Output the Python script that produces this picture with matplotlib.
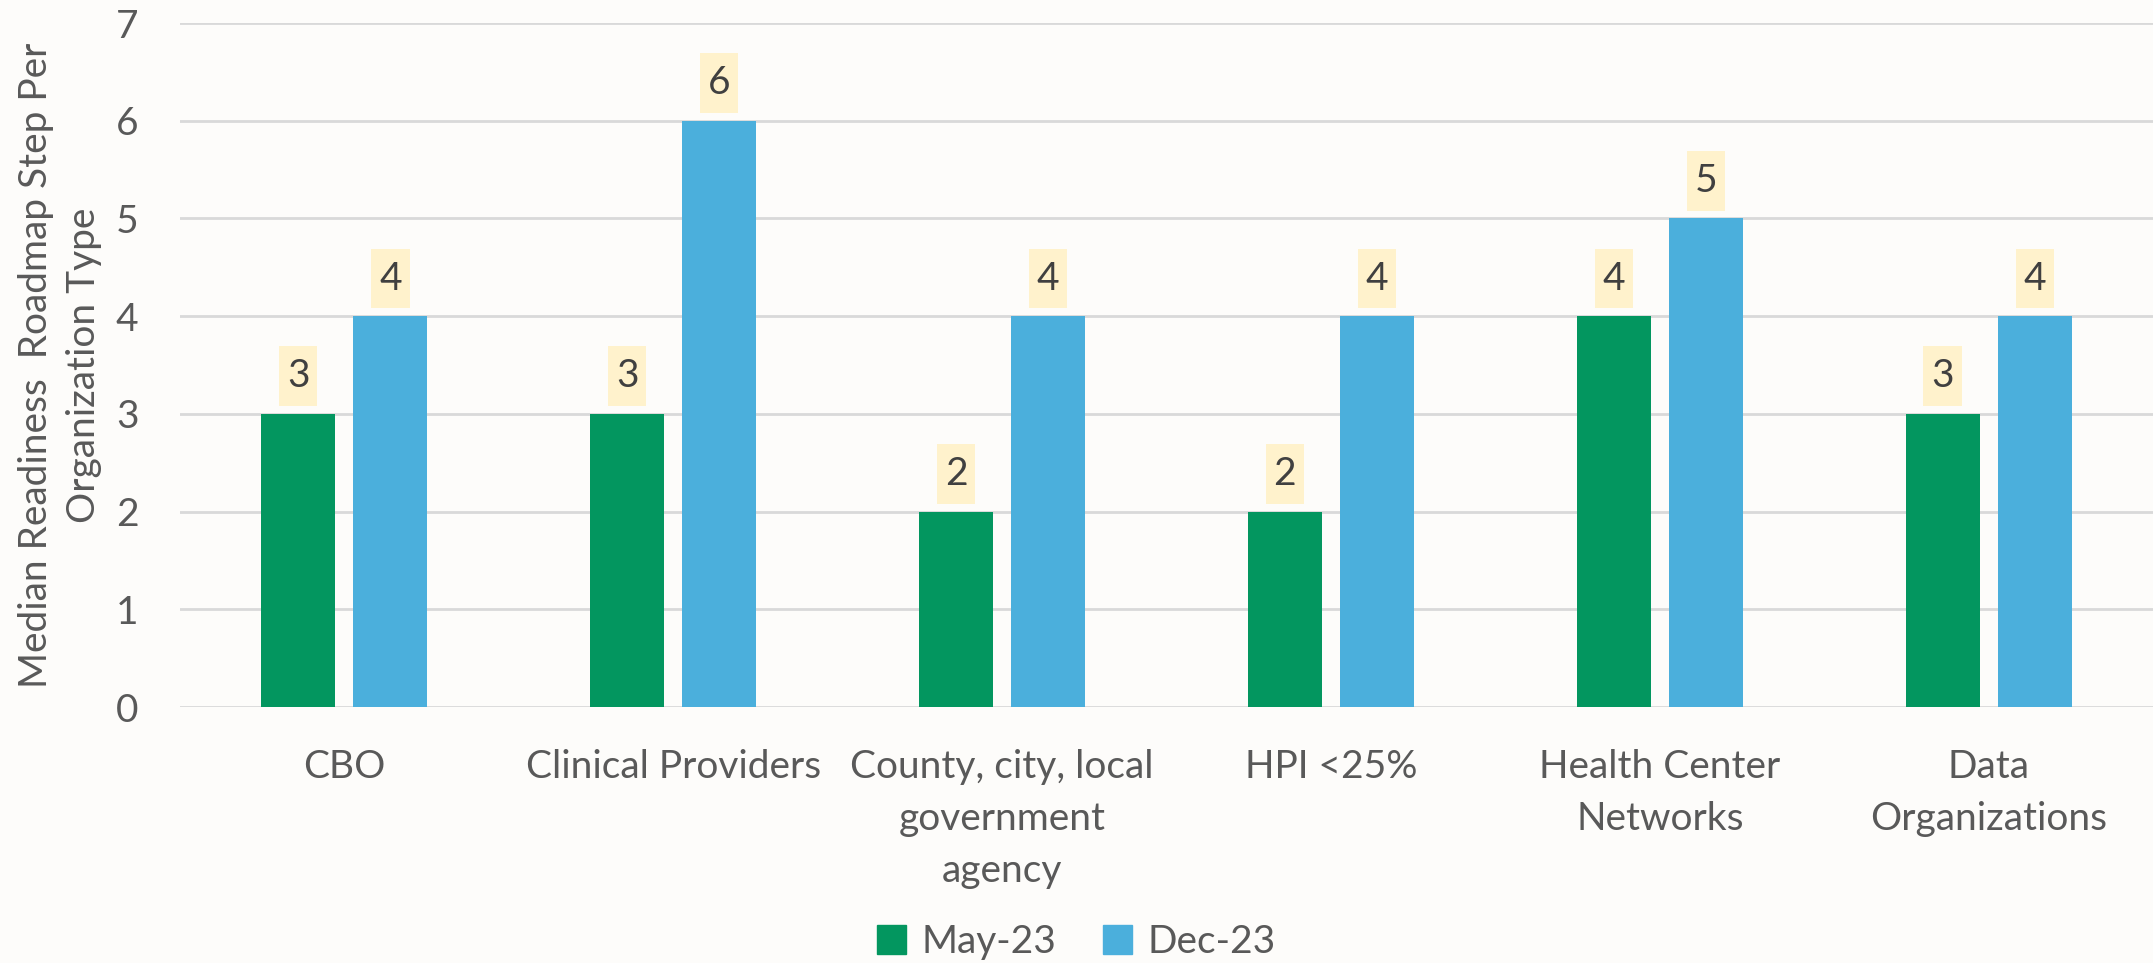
import numpy as np
import matplotlib.pyplot as plt
from matplotlib.patches import Patch, Rectangle

categories = ["CBO", "Clinical Providers", "County, city, local\ngovernment\nagency",
              "HPI <25%", "Health Center\nNetworks", "Data\nOrganizations"]
may_23 = [3, 3, 2, 2, 4, 3]
dec_23 = [4, 6, 4, 4, 5, 4]
series_names = ["May-23", "Dec-23"]

GREEN = "#03965F"
BLUE = "#4BAFDC"
BG = "#FDFCFA"
TEXT = "#595959"
LABEL_BOX = "#FFF2CC"

plt.rcParams['font.family'] = ['Lato', 'DejaVu Sans']

fig = plt.figure(figsize=(21.53, 9.63), dpi=100, facecolor=BG)
ax = fig.add_axes([180/2153, 1-707/963, 1-180/2153, (707-23)/963])
ax.set_facecolor(BG)

x = np.arange(len(categories))
offset = 0.14
width = 0.225

bars1 = ax.bar(x - offset, may_23, width, color=GREEN, zorder=3)
bars2 = ax.bar(x + offset, dec_23, width, color=BLUE, zorder=3)

# data labels: pale yellow box sitting just above each bar
box_w, box_h, box_gap = 0.116, 0.61, 0.08
for bars in (bars1, bars2):
    for b in bars:
        cx = b.get_x() + b.get_width()/2
        h = b.get_height()
        ax.add_patch(Rectangle((cx - box_w/2, h + box_gap), box_w, box_h,
                               facecolor=LABEL_BOX, edgecolor='none', zorder=4))
        ax.text(cx, h + box_gap + box_h/2, f"{int(h)}", ha='center', va='center',
                fontsize=28, color="#404040", zorder=5)

ax.set_xlim(-0.5, len(categories) - 0.5)
ax.set_ylim(0, 7)
ax.set_yticks(range(0, 8))
ax.yaxis.grid(True, color="#D9D9D9", linewidth=2)
ax.set_axisbelow(True)
for s in ax.spines.values():
    s.set_visible(False)
ax.tick_params(axis='both', length=0, labelsize=28, labelcolor=TEXT)
ax.tick_params(axis='y', pad=30)
ax.tick_params(axis='x', pad=30)
ax.set_xticks(x)
ax.set_xticklabels(categories, linespacing=1.55, va='top')

ax.set_ylabel("Median Readiness  Roadmap Step Per\nOrganization Type",
              fontsize=28, color=TEXT, linespacing=1.4, labelpad=10)

handles = [Patch(color=GREEN), Patch(color=BLUE)]
fig.legend(handles, series_names, loc='center', bbox_to_anchor=(0.5, 1-942/963),
           ncol=2, frameon=False, fontsize=28, labelcolor=TEXT,
           handlelength=0.75, handleheight=0.75, handletextpad=0.4, columnspacing=1.2)

fig.savefig("out.png", dpi=100, facecolor=BG)
